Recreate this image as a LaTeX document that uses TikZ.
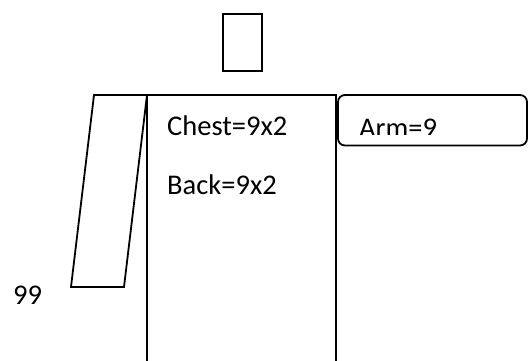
\documentclass[tikz,border=0pt]{standalone}
\usepackage{fontspec}
\setmainfont{Carlito}
\begin{document}
\begin{tikzpicture}[x=1pt,y=1pt,line join=miter,
  outl/.style={draw=black,line width=1.8pt},
  lbl/.style={anchor=base west,inner sep=0pt,font=\fontsize{28.5}{34}\selectfont}]
\useasboundingbox (0,0) rectangle (528,-360);
\clip (0,0) rectangle (528,-360);
% head
\draw[outl] (223,-14) rectangle (262,-71);
% torso (open at bottom)
\draw[outl] (147,-370) -- (147,-95) -- (336,-95) -- (336,-370);
% left arm (slanted)
\draw[outl] (94,-95) -- (147,-95) -- (124,-287) -- (71,-287) -- cycle;
% right arm box
\draw[outl,rounded corners=7pt] (338,-95) rectangle (527,-145.5);
% texts
\node[lbl] (chest) at (167,-135) {Chest=9x2};
\node[lbl] (back) at (167,-194) {Back=9x2};
\node[lbl] (nn) at (13,-304) {99};
\begin{scope}
\clip (340,-100) rectangle (520,-134);
\node[lbl] (arm) at (359,-137.5) {Arm=9};
\end{scope}
\end{tikzpicture}
\end{document}
